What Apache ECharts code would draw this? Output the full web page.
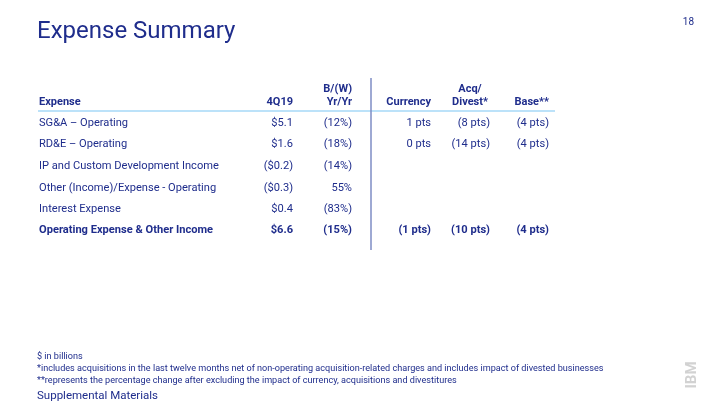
<!DOCTYPE html>
<html><head><meta charset="utf-8">
<script src="https://cdn.jsdelivr.net/npm/echarts@6/dist/echarts.min.js"></script>
<style>html,body{margin:0;padding:0;background:#fff}#c{width:720px;height:405px}</style>
</head><body><div id="c"></div>
<script>
const title = "Expense Summary";
const pageNum = "18";
const headers1 = ["", "", "B/(W)", "", "Acq/", ""];
const headers2 = ["Expense", "4Q19", "Yr/Yr", "Currency", "Divest*", "Base**"];
const rowNames = ["SG&A – Operating", "RD&E – Operating", "IP and Custom Development Income", "Other (Income)/Expense - Operating", "Interest Expense", "Operating Expense & Other Income"];
const q4Values = ["$5.1", "$1.6", "($0.2)", "($0.3)", "$0.4", "$6.6"];
const yrYr = ["(12%)", "(18%)", "(14%)", "55%", "(83%)", "(15%)"];
const currency = ["1 pts", "0 pts", "", "", "", "(1 pts)"];
const acqDivest = ["(8 pts)", "(14 pts)", "", "", "", "(10 pts)"];
const base = ["(4 pts)", "(4 pts)", "", "", "", "(4 pts)"];
const boldRows = [false, false, false, false, false, true];
const footnotes = ["$ in billions", "*includes acquisitions in the last twelve months net of non-operating acquisition-related charges and includes impact of divested businesses", "**represents the percentage change after excluding the impact of currency, acquisitions and divestitures"];
const bottomLabel = "Supplemental Materials";

const C = '#1f2d8c';
const FONT = 'Roboto';
const colX = [39, 293, 352, 431, 470, 549];
const colAlign = ['left', 'right', 'right', 'right', 'center', 'right'];
const rowY = [123, 144.5, 166, 188, 209, 230.5];
const els = [];
function txt(x, y, s, size, opts) {
  opts = opts || {};
  els.push({type: 'text', x: x, y: y, rotation: opts.rot || 0, style: {text: s, fill: opts.fill || C, font: (opts.weight || 'normal') + ' ' + size + 'px ' + (opts.family || FONT), textAlign: opts.align || 'left', textVerticalAlign: 'middle'}});
}
txt(37, 32, title, 24);
txt(694, 22, pageNum, 10, {align: 'right'});
headers1.forEach((h, i) => { if (h) txt(colX[i], 89, h, 11, {weight: 'bold', align: colAlign[i]}); });
headers2.forEach((h, i) => txt(colX[i], 102, h, 11, {weight: 'bold', align: colAlign[i]}));
const cols = [rowNames, q4Values, yrYr, currency, acqDivest, base];
rowNames.forEach((_, r) => {
  cols.forEach((col, c) => {
    if (col[r]) txt(c === 4 ? 490 : colX[c], rowY[r], col[r], 11.1, {weight: boldRows[r] ? 'bold' : 'normal', align: c === 0 ? 'left' : 'right'});
  });
});
els.push({type: 'line', shape: {x1: 38, y1: 111, x2: 555, y2: 111}, style: {stroke: '#a6d9f7', lineWidth: 1.5}});
els.push({type: 'line', shape: {x1: 371, y1: 78, x2: 371, y2: 250}, style: {stroke: '#7e8dc4', lineWidth: 1.5}});
footnotes.forEach((f, i) => txt(37, 357 + i * 12, f, 9.1));
txt(37, 396, bottomLabel, 11.5);
txt(692, 375, 'IBM', 15, {weight: 'bold', fill: '#d2d2d2', align: 'center', rot: Math.PI / 2});

const chart = echarts.init(document.getElementById('c'), null, {renderer: 'canvas'});
chart.setOption({animation: false, graphic: {elements: els}});
</script></body></html>
